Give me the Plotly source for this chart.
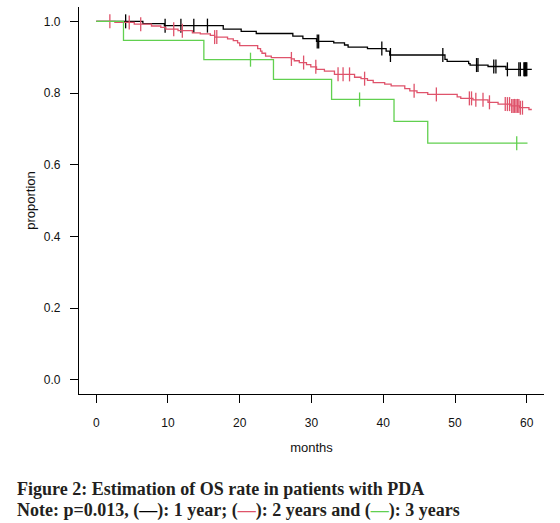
import numpy as np
import plotly.graph_objects as go

# ---- data ----
# 1 year (black)
t1 = [0, 6.5, 9.5, 17.7, 20.2, 22.3, 27.4, 28.8, 30.7, 33.1, 34.6, 35.1, 37.8, 40.4, 40.9,
      48.6, 48.9, 51.9, 52.1, 54.6, 57.1, 60.7]
s1 = [1.0, 0.9935, 0.988, 0.978, 0.972, 0.966, 0.959, 0.952, 0.944, 0.940, 0.934, 0.928, 0.924,
      0.917, 0.906, 0.894, 0.888, 0.882, 0.878, 0.874, 0.866, 0.866]
c1 = [4.1, 9.6, 11.8, 13.6, 15.5, 30.8, 31.0, 39.8, 41.0, 48.3, 53.0, 53.2, 55.4, 55.7, 57.3,
      58.9, 59.1, 59.6, 59.7, 59.8, 59.9, 60.0]

# 2 years (red)
t2 = [0, 2.6, 5.3, 7.7, 9.0, 9.7, 11.4, 13.4, 14.5, 15.9, 16.5, 18.3, 19.1, 19.7, 20.0, 22.5,
      22.9, 23.1, 23.6, 24.4, 27.2, 27.6, 28.3, 29.3, 29.9, 30.7, 31.8, 33.2, 36.0, 36.9, 37.8,
      38.6, 40.2, 41.1, 43.0, 43.7, 44.7, 46.2, 50.3, 50.8, 52.5, 54.6, 56.0, 57.8, 59.0, 60.3, 60.7]
s2 = [1.0, 0.997, 0.992, 0.987, 0.983, 0.978, 0.974, 0.968, 0.965, 0.961, 0.956, 0.951, 0.946,
      0.940, 0.932, 0.924, 0.917, 0.911, 0.903, 0.899, 0.895, 0.890, 0.885, 0.879, 0.873, 0.866,
      0.861, 0.852, 0.844, 0.840, 0.835, 0.829, 0.825, 0.820, 0.812, 0.806, 0.801, 0.796, 0.789,
      0.785, 0.781, 0.774, 0.769, 0.764, 0.759, 0.754, 0.754]
c2 = [1.9, 4.6, 6.2, 10.8, 12.0, 16.5, 16.8, 27.2, 28.9, 30.6, 33.7, 34.4, 35.3, 37.4, 44.3,
      47.4, 52.0, 52.3, 52.9, 53.9, 54.8, 57.0, 57.3, 57.6, 57.9, 58.1, 58.3, 58.5, 58.7, 58.9,
      59.1, 59.4]

# 3 years (green)
t3 = [0, 3.8, 15.0, 24.7, 32.8, 41.5, 46.2, 60.1]
s3 = [1.0, 0.947, 0.893, 0.838, 0.782, 0.721, 0.660, 0.660]
c3 = [21.5, 36.7, 58.6]

x_ticks = [0, 10, 20, 30, 40, 50, 60]
y_ticks = [0.0, 0.2, 0.4, 0.6, 0.8, 1.0]

groups = [("1 year", t1, s1, c1, "#000000"),
          ("2 years", t2, s2, c2, "#DF536B"),
          ("3 years", t3, s3, c3, "#61D04F")]


def surv_at(t, s, x):
    idx = np.searchsorted(np.array(t), np.array(x), side="right") - 1
    return list(np.array(s)[idx])


fig = go.Figure()
for name, t, s, c, col in groups:
    fig.add_trace(go.Scatter(x=t, y=s, mode="lines", line=dict(color=col, width=1.3, shape="hv"),
                             name=name, showlegend=False, hoverinfo="skip", cliponaxis=False))
    fig.add_trace(go.Scatter(x=c, y=surv_at(t, s, c), mode="markers",
                             marker=dict(symbol="line-ns", size=10, line=dict(color=col, width=1.3)),
                             showlegend=False, hoverinfo="skip", cliponaxis=False))

axis_font = dict(family="Liberation Sans, Arial, sans-serif", size=12, color="#111111")
title_font = dict(family="Liberation Sans, Arial, sans-serif", size=13, color="#111111")

fig.update_layout(
    width=560, height=523,
    margin=dict(l=79, r=16, t=7, b=129, autoexpand=False),
    paper_bgcolor="white", plot_bgcolor="white",
    xaxis=dict(range=[-2.4, 62.4], tickvals=x_ticks, ticktext=[str(v) for v in x_ticks],
               showline=True, linecolor="black", linewidth=1.2, ticks="outside", ticklen=8,
               tickcolor="black", tickwidth=1, showgrid=False, zeroline=False,
               tickfont=axis_font, ticklabelstandoff=9, automargin=False,
               title=dict(text="months", font=title_font, standoff=14)),
    yaxis=dict(range=[-0.04, 1.04], tickvals=y_ticks, ticktext=[f"{v:.1f}" for v in y_ticks],
               showline=True, linecolor="black", linewidth=1.2, ticks="outside", ticklen=8,
               tickcolor="black", tickwidth=1, showgrid=False, zeroline=False,
               tickfont=axis_font, ticklabelstandoff=7, automargin=False,
               title=dict(text="proportion", font=title_font, standoff=5)),
)

cap_font = dict(family="Liberation Serif, Times New Roman, serif", size=18, color="#231f20")
fig.add_annotation(xref="paper", yref="paper", x=(15 - 79) / 465, y=(394 - 489) / 387,
                   xanchor="left", yanchor="middle", showarrow=False, align="left",
                   text="<b>Figure 2: Estimation of OS rate in patients with PDA</b>", font=cap_font)
fig.add_annotation(xref="paper", yref="paper", x=(15 - 79) / 465, y=(394 - 510) / 387,
                   xanchor="left", yanchor="middle", showarrow=False, align="left",
                   text=("<b>Note: p=0.013, (<span style='color:#000000'>\u2014</span>): 1 year; "
                         "(<span style='color:#DF536B'>\u2014</span>): 2 years and "
                         "(<span style='color:#61D04F'>\u2014</span>): 3 years</b>"),
                   font=cap_font)

fig.write_html("out.html", config={"displayModeBar": False},
               post_script="document.body.style.margin='0';document.body.style.padding='0';")
